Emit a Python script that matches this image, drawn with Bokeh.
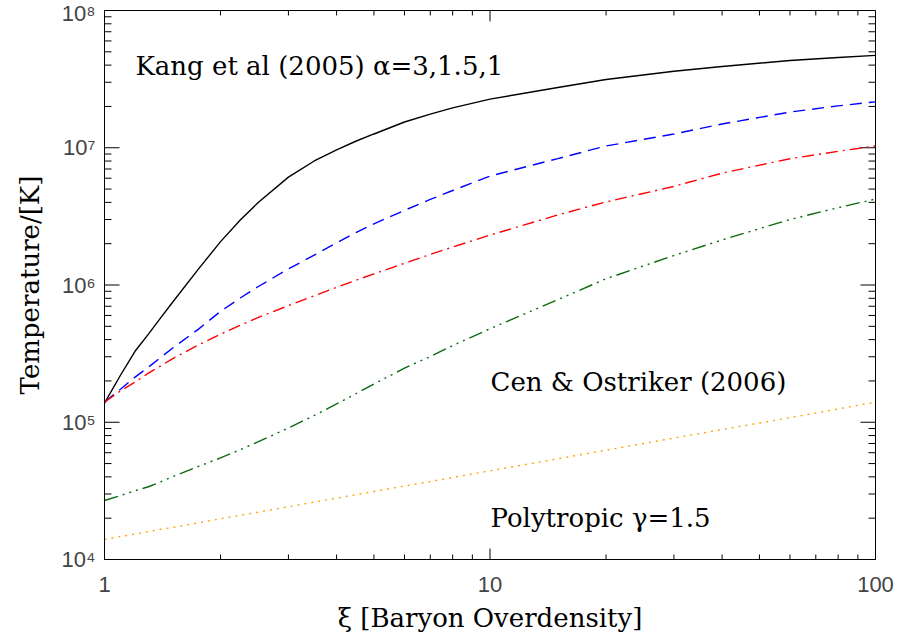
from bokeh.plotting import figure
from bokeh.models import FixedTicker, Range1d
from bokeh.core.properties import value
from bokeh.embed import file_html
from bokeh.resources import INLINE

# ---- data -------------------------------------------------------------
xi = [1, 1.1, 1.2, 1.3, 1.4, 1.5, 1.75, 2, 2.25, 2.5, 3, 3.5, 4, 4.5, 5, 6, 7, 8,
      10, 15, 20, 30, 40, 60, 80, 100]

t_kang_a3 = [1.38e5, 2.20e5, 3.29e5, 4.39e5, 5.78e5, 7.46e5, 1.30e6, 2.07e6, 2.98e6,
             3.97e6, 6.11e6, 8.01e6, 9.66e6, 1.12e7, 1.26e7, 1.54e7, 1.76e7, 1.95e7,
             2.26e7, 2.75e7, 3.14e7, 3.61e7, 3.91e7, 4.32e7, 4.55e7, 4.71e7]
t_kang_a15 = [1.40e5, 1.74e5, 2.13e5, 2.52e5, 2.97e5, 3.46e5, 4.75e5, 6.43e5, 8.04e5,
              9.71e5, 1.31e6, 1.65e6, 2.03e6, 2.42e6, 2.79e6, 3.50e6, 4.20e6, 4.88e6,
              6.22e6, 8.34e6, 1.03e7, 1.26e7, 1.49e7, 1.82e7, 2.02e7, 2.16e7]
t_kang_a1 = [1.40e5, 1.69e5, 1.96e5, 2.28e5, 2.58e5, 2.90e5, 3.65e5, 4.38e5, 5.10e5,
             5.79e5, 7.07e5, 8.35e5, 9.61e5, 1.085e6, 1.205e6, 1.44e6, 1.67e6, 1.89e6,
             2.31e6, 3.24e6, 4.03e6, 5.23e6, 6.53e6, 8.32e6, 9.42e6, 1.03e7]
t_cen = [2.69e4, 2.92e4, 3.17e4, 3.39e4, 3.68e4, 4.01e4, 4.76e4, 5.50e4, 6.31e4,
         7.19e4, 9.08e4, 1.12e5, 1.36e5, 1.62e5, 1.90e5, 2.48e5, 3.01e5, 3.62e5,
         4.80e5, 7.82e5, 1.11e6, 1.64e6, 2.13e6, 3.00e6, 3.66e6, 4.23e6]
t_poly = [1.40e4, 1.47e4, 1.53e4, 1.60e4, 1.66e4, 1.71e4, 1.85e4, 1.98e4, 2.10e4,
          2.21e4, 2.42e4, 2.62e4, 2.80e4, 2.97e4, 3.13e4, 3.43e4, 3.70e4, 3.96e4,
          4.43e4, 5.42e4, 6.26e4, 7.67e4, 8.85e4, 1.08e5, 1.25e5, 1.40e5]

x_major = [1, 10, 100]
x_minor = [2, 3, 4, 5, 6, 7, 8, 9, 20, 30, 40, 50, 60, 70, 80, 90]
x_tick_labels = ["1", "10", "100"]
y_major = [1e4, 1e5, 1e6, 1e7, 1e8]
y_minor = [k * 10.0 ** e for e in range(4, 8) for k in range(2, 10)]
y_tick_labels = ["10\u2074", "10\u2075", "10\u2076", "10\u2077", "10\u2078"]

annotations = ["Kang et al (2005) \u03b1=3,1.5,1", "Cen & Ostriker (2006)",
               "Polytropic \u03b3=1.5"]
ann_x = [1.203, 10.03, 10.03]
ann_y = [3.95e7, 1.95e5, 1.99e4]

SERIF = "DejaVu Serif"
SANS = "Liberation Sans"

# ---- layout ------------------------------------------------------------
W, H = 899, 635
B_LEFT, B_RIGHT, B_TOP, B_BOTTOM = 104, 24, 10, 74
X0, X1, Y0, Y1 = 1, 100, 1e4, 1e8
PPD_X = (W - B_LEFT - B_RIGHT) / 2.0   # pixels per decade along x
PPD_Y = (H - B_TOP - B_BOTTOM) / 4.0   # pixels per decade along y
XT_MAJ, XT_MIN, YT_MAJ, YT_MIN = 11, 5, 15, 7

p = figure(width=W, height=H, x_axis_type="log", y_axis_type="log",
           x_range=Range1d(X0, X1), y_range=Range1d(Y0, Y1),
           output_backend="svg", toolbar_location=None,
           min_border_left=B_LEFT, min_border_right=B_RIGHT,
           min_border_top=B_TOP, min_border_bottom=B_BOTTOM)
p.grid.visible = False
p.outline_line_color = "black"

xa = p.xaxis[0]
ya = p.yaxis[0]
xa.ticker = FixedTicker(ticks=x_major, minor_ticks=x_minor)
ya.ticker = FixedTicker(ticks=y_major, minor_ticks=y_minor)
xa.major_label_overrides = {v: s for v, s in zip(x_major, x_tick_labels)}
ya.major_label_overrides = {v: s for v, s in zip(y_major, y_tick_labels)}
for ax in (xa, ya):
    ax.major_tick_in = 0
    ax.major_tick_out = 0
    ax.minor_tick_in = 0
    ax.minor_tick_out = 0
    ax.major_tick_line_color = None
    ax.minor_tick_line_color = None
    ax.major_label_text_font = SANS
    ax.major_label_text_font_size = "22px"
    ax.axis_label_text_font = SERIF
    ax.axis_label_text_font_size = "26px"
    ax.axis_label_text_font_style = "normal"
    ax.axis_label_text_color = "black"
xa.axis_label = "\u03be [Baryon Overdensity]"
ya.axis_label = "Temperature/[K]"
xa.major_label_standoff = 17
xa.axis_label_standoff = 8
ya.major_label_standoff = 9
ya.axis_label_standoff = 14

# inward tick marks on all four sides of the frame, placed by the log scales
def tick_segments(ticks, length, axis):
    x0s, y0s, x1s, y1s = [], [], [], []
    for t in ticks:
        if axis == "x":
            f = 10 ** (length / PPD_Y)
            x0s += [t, t]; x1s += [t, t]
            y0s += [Y0, Y1]; y1s += [Y0 * f, Y1 / f]
        else:
            f = 10 ** (length / PPD_X)
            y0s += [t, t]; y1s += [t, t]
            x0s += [X0, X1]; x1s += [X0 * f, X1 / f]
    return dict(x0=x0s, y0=y0s, x1=x1s, y1=y1s)


for ticks, length, axis in ((x_major, XT_MAJ, "x"), (x_minor, XT_MIN, "x"),
                            (y_major, YT_MAJ, "y"), (y_minor, YT_MIN, "y")):
    p.segment(**tick_segments(ticks, length, axis), line_color="black",
              line_width=1)

p.line(xi, t_kang_a3, line_color="black", line_width=1.4)
p.line(xi, t_kang_a15, line_color="blue", line_width=1.4, line_dash="12 7")
p.line(xi, t_kang_a1, line_color="red", line_width=1.4, line_dash="12 5 2 5")
p.line(xi, t_cen, line_color="#0b6b0b", line_width=1.4,
       line_dash="14 5 2 5 2 5 2 5")
p.line(xi, t_poly, line_color="orange", line_width=1.4, line_dash="2 5")

p.text(x=ann_x, y=ann_y, text=annotations, text_font=value(SERIF),
       text_font_size="26px", text_baseline="alphabetic", text_align="left",
       text_color="black")

open("out.html", "w").write(file_html(p, INLINE))
